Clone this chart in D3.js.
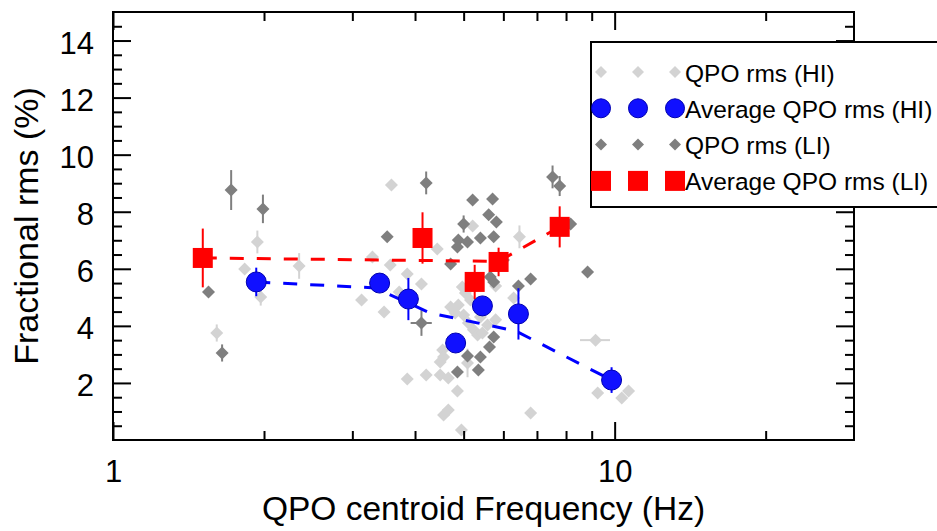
<!DOCTYPE html>
<html><head><meta charset="utf-8">
<script src="https://cdn.jsdelivr.net/npm/d3@7"></script>
<style>
body{margin:0;background:#fff;}
svg{display:block;}
text{font-family:"Liberation Sans",Arial,Helvetica,sans-serif;fill:#000;}
</style>
</head><body>
<svg id="c" width="937" height="531"></svg>
<script>
// ---------- DATA ----------
// QPO rms (HI) - individual points
const hiFreq = [1.94,1.83,1.97,2.35,1.61,3.59,3.29,3.57,3.86,4.12,3.13,3.47,3.72,3.86,4.21,4.49,4.66,4.86,4.56,4.66,4.95,4.43,5.21,6.46,4.97,4.71,4.88,4.81,5.00,5.11,5.23,5.33,5.58,5.79,5.40,4.54,4.56,4.49,5.09,5.45,5.79,6.29,6.80,9.16,9.25,10.33,10.66,5.04,5.16];
const hiRms  = [6.94,5.99,5.01,6.10,3.75,8.94,6.41,6.13,5.82,5.47,4.91,4.49,5.19,2.14,2.28,2.28,2.17,1.72,0.88,1.05,0.35,6.69,7.50,7.12,5.36,4.66,4.73,4.45,4.38,4.10,3.86,3.68,4.03,4.21,4.31,3.15,2.91,2.73,2.70,3.75,5.40,4.98,0.95,3.50,1.65,1.47,1.72,5.15,4.91];
const hiRmsErr = [0.4,0.15,0.3,0.45,0.3,0.15,0.15,0.15,0.15,0.15,0.15,0.15,0.15,0.15,0.15,0.15,0.15,0.15,0.15,0.15,0.15,0.15,0.15,0.4,0.15,0.15,0.15,0.15,0.15,0.15,0.15,0.15,0.15,0.15,0.15,0.15,0.15,0.15,0.5,0.15,0.15,0.15,0.15,0.15,0.15,0.15,0.15,0.15,0.15];
const hiFreqErr = [0,0,0,0,0,0,0,0,0,0,0,0,0,0,0,0,0,0,0,0,0,0,0,0,0,0,0,0,0,0,0,0,0,0,0,0,0,0,0,0,0,0,0,0.63,0,0,0,0,0];

// QPO rms (LI) - individual points
const liFreq = [1.72,1.99,1.55,1.65,4.21,3.52,4.12,5.21,5.71,5.00,4.88,5.09,4.86,5.40,5.74,5.61,5.81,4.71,6.00,5.65,5.74,6.43,6.80,5.09,5.40,4.86,5.35,5.63,5.74,7.52,7.77,8.17,8.83];
const liRms  = [8.76,8.10,5.19,3.05,9.01,7.12,4.10,8.41,8.45,7.57,7.01,6.94,6.76,7.08,7.12,7.89,7.64,6.17,6.31,5.71,5.54,5.40,5.64,2.94,2.91,2.38,2.45,3.26,3.61,9.22,8.90,7.57,5.89];
const liRmsErr = [0.7,0.5,0.15,0.3,0.4,0.15,0.45,0.15,0.15,0.3,0.15,0.15,0.15,0.15,0.15,0.15,0.15,0.15,0.15,0.15,0.15,0.15,0.15,0.15,0.15,0.15,0.15,0.15,0.15,0.4,0.35,0.15,0.15];
const liFreqErr = [0,0,0,0,0,0,0.2,0,0,0,0,0,0,0,0,0,0,0,0,0,0,0,0,0,0,0,0,0,0,0,0,0,0];

// Average QPO rms (HI)
const hiAvgFreq = [1.93,3.40,3.88,4.82,5.45,6.43,9.86];
const hiAvgRms  = [5.54,5.50,4.94,3.40,4.70,4.42,2.10];
const hiAvgErr  = [0.5,0.2,0.74,0.2,0.2,0.9,0.45];
// dashed trend (HI)
const hiTrendFreq = [1.93,3.33,4.29,6.35,9.86];
const hiTrendRms  = [5.54,5.33,4.45,3.82,2.10];

// Average QPO rms (LI)
const liAvgFreq = [1.51,4.14,5.26,5.87,7.77];
const liAvgRms  = [6.38,7.08,5.54,6.24,7.47];
const liAvgErr  = [1.03,0.9,0.6,0.5,0.72];
// dashed trend (LI)
const liTrendFreq = [1.51,5.87,7.77];
const liTrendRms  = [6.38,6.26,7.47];

// axes
const xMajorTicks = [1,10];
const xMinorTicks = [2,3,4,5,6,7,8,9,20];
const yMajorTicks = [2,4,6,8,10,12,14];
const yMinorTicks = d3.range(0.5,15,0.5).filter(v=>v%2!==0);
const legendLabels = ["QPO rms (HI)","Average QPO rms (HI)","QPO rms (LI)","Average QPO rms (LI)"];
const xTitle = "QPO centroid Frequency (Hz)";
const yTitle = "Fractional rms (%)";

// ---------- DRAW ----------
const W=937,H=531,L=113,R=854,T=12,B=440;
const LIGHT="#d3d3d3", DARK="#7f7f7f", BLUE="#0000ff", RED="#ff0000";
const x=d3.scaleLog().domain([1,30]).range([L,R]);
const y=d3.scaleLinear().domain([0,15]).range([B,T]);
const svg=d3.select('#c');
svg.append('rect').attr('width',W).attr('height',H).attr('fill','#fff');

const diamondPath = s => `M0,${-s}L${s},0L0,${s}L${-s},0Z`;

function points(fr, rm, re, fe, color){
  const g=svg.append('g');
  const idx=d3.range(fr.length);
  g.selectAll('line.ey').data(idx).join('line')
    .attr('x1',i=>x(fr[i])).attr('x2',i=>x(fr[i]))
    .attr('y1',i=>y(rm[i]-re[i])).attr('y2',i=>y(rm[i]+re[i]))
    .attr('stroke',color).attr('stroke-width',2);
  g.selectAll('line.ex').data(idx.filter(i=>fe[i]>0)).join('line')
    .attr('x1',i=>x(fr[i]-fe[i])).attr('x2',i=>x(fr[i]+fe[i]))
    .attr('y1',i=>y(rm[i])).attr('y2',i=>y(rm[i]))
    .attr('stroke',color).attr('stroke-width',2);
  g.selectAll('path').data(idx).join('path')
    .attr('d',diamondPath(6.5))
    .attr('transform',i=>`translate(${x(fr[i])},${y(rm[i])})`)
    .attr('fill',color);
}
points(hiFreq,hiRms,hiRmsErr,hiFreqErr,LIGHT);
points(liFreq,liRms,liRmsErr,liFreqErr,DARK);

const line=d3.line().x(d=>x(d[0])).y(d=>y(d[1]));
svg.append('path').attr('d',line(d3.zip(liTrendFreq,liTrendRms)))
  .attr('fill','none').attr('stroke',RED).attr('stroke-width',3).attr('stroke-dasharray','14,13');
svg.append('path').attr('d',line(d3.zip(hiTrendFreq,hiTrendRms)))
  .attr('fill','none').attr('stroke',BLUE).attr('stroke-width',3).attr('stroke-dasharray','14,13');

// blue averages
const gb=svg.append('g');
gb.selectAll('line').data(d3.range(hiAvgFreq.length)).join('line')
  .attr('x1',i=>x(hiAvgFreq[i])).attr('x2',i=>x(hiAvgFreq[i]))
  .attr('y1',i=>y(hiAvgRms[i]-hiAvgErr[i])).attr('y2',i=>y(hiAvgRms[i]+hiAvgErr[i]))
  .attr('stroke',BLUE).attr('stroke-width',2);
gb.selectAll('circle').data(d3.range(hiAvgFreq.length)).join('circle')
  .attr('cx',i=>x(hiAvgFreq[i])).attr('cy',i=>y(hiAvgRms[i])).attr('r',10)
  .attr('fill','#1010ff').attr('stroke','#0000b0').attr('stroke-width',1);
// red averages
const gr=svg.append('g');
gr.selectAll('line').data(d3.range(liAvgFreq.length)).join('line')
  .attr('x1',i=>x(liAvgFreq[i])).attr('x2',i=>x(liAvgFreq[i]))
  .attr('y1',i=>y(liAvgRms[i]-liAvgErr[i])).attr('y2',i=>y(liAvgRms[i]+liAvgErr[i]))
  .attr('stroke',RED).attr('stroke-width',2);
gr.selectAll('rect').data(d3.range(liAvgFreq.length)).join('rect')
  .attr('x',i=>x(liAvgFreq[i])-10).attr('y',i=>y(liAvgRms[i])-10).attr('width',20).attr('height',20)
  .attr('fill',RED);

// axes
function styleAxis(g){
  g.select('.domain').remove();
  g.selectAll('.tick line').attr('stroke','#000').attr('stroke-width',2);
  g.selectAll('.tick text').style('font-size','31px').attr('fill','#000');
}
svg.append('g').attr('transform',`translate(0,${B})`)
  .call(d3.axisBottom(x).tickValues(xMajorTicks).tickFormat(d3.format('d')).tickSizeInner(-18).tickSizeOuter(0).tickPadding(20)).call(styleAxis);
svg.append('g').attr('transform',`translate(0,${B})`)
  .call(d3.axisBottom(x).tickValues(xMinorTicks).tickFormat('').tickSizeInner(-9).tickSizeOuter(0)).call(styleAxis);
svg.append('g').attr('transform',`translate(0,${T})`)
  .call(d3.axisTop(x).tickValues(xMajorTicks).tickFormat('').tickSizeInner(-18).tickSizeOuter(0)).call(styleAxis);
svg.append('g').attr('transform',`translate(0,${T})`)
  .call(d3.axisTop(x).tickValues(xMinorTicks).tickFormat('').tickSizeInner(-9).tickSizeOuter(0)).call(styleAxis);
svg.append('g').attr('transform',`translate(${L},0)`)
  .call(d3.axisLeft(y).tickValues(yMajorTicks).tickFormat(d3.format('d')).tickSizeInner(-18).tickSizeOuter(0).tickPadding(19)).call(styleAxis)
  .selectAll('.tick text').attr('dy','0.42em');
svg.append('g').attr('transform',`translate(${L},0)`)
  .call(d3.axisLeft(y).tickValues(yMinorTicks).tickFormat('').tickSizeInner(-9).tickSizeOuter(0)).call(styleAxis);
svg.append('g').attr('transform',`translate(${R},0)`)
  .call(d3.axisRight(y).tickValues(yMajorTicks).tickFormat('').tickSizeInner(-18).tickSizeOuter(0)).call(styleAxis);
svg.append('g').attr('transform',`translate(${R},0)`)
  .call(d3.axisRight(y).tickValues(yMinorTicks).tickFormat('').tickSizeInner(-9).tickSizeOuter(0)).call(styleAxis);
svg.append('rect').attr('x',L).attr('y',T).attr('width',R-L).attr('height',B-T)
  .attr('fill','none').attr('stroke','#000').attr('stroke-width',2);

// titles
svg.append('text').attr('x',(L+R)/2).attr('y',520).attr('text-anchor','middle')
  .style('font-size','33.5px').text(xTitle);
svg.append('text').attr('transform',`translate(38,${(T+B)/2}) rotate(-90)`).attr('text-anchor','middle')
  .style('font-size','34px').text(yTitle);

// legend
const lg=svg.append('g');
lg.append('rect').attr('x',591).attr('y',42).attr('width',360).attr('height',165)
  .attr('fill','#fff').attr('stroke','#000').attr('stroke-width',2);
const symX=[601,638,675];
legendLabels.forEach((lab,i)=>{
  const cy=72+i*36.3;
  symX.forEach(sx=>{
    if(i===0||i===2){
      lg.append('path').attr('d',diamondPath(6)).attr('transform',`translate(${sx},${cy})`).attr('fill',i===0?LIGHT:DARK);
    } else if(i===1){
      lg.append('circle').attr('cx',sx).attr('cy',cy).attr('r',9.5).attr('fill','#1010ff').attr('stroke','#0000b0');
    } else {
      lg.append('rect').attr('x',sx-10).attr('y',cy-10).attr('width',20).attr('height',20).attr('fill',RED);
    }
  });
  lg.append('text').attr('x',685).attr('y',cy+9.5).style('font-size','24.5px').text(lab);
});
</script>
</body></html>
